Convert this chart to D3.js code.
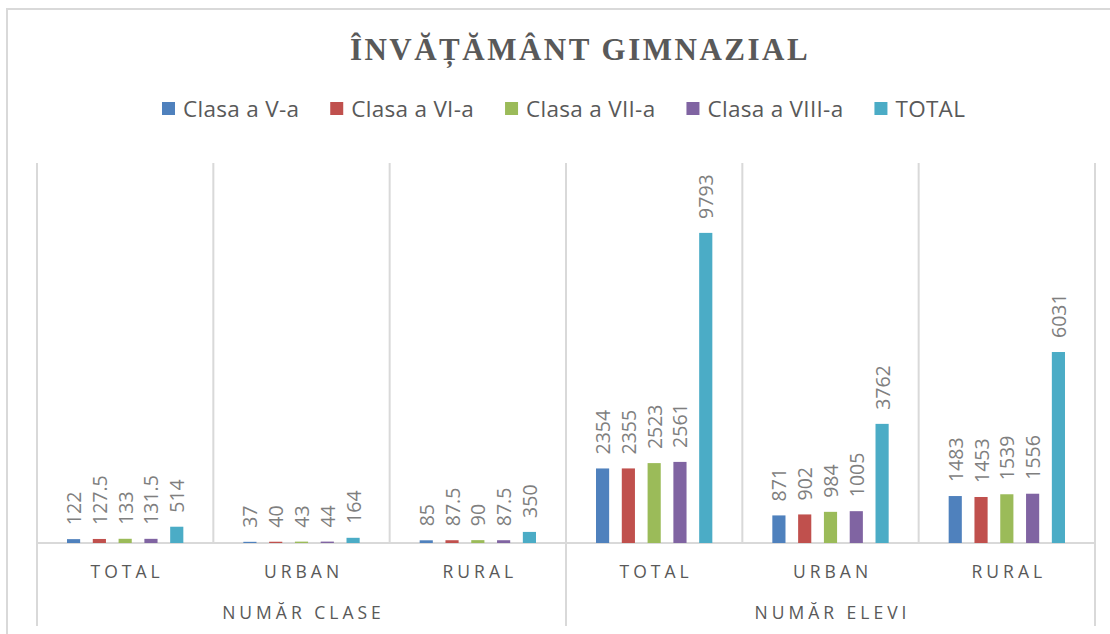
<!DOCTYPE html>
<html lang="ro">
<head>
<meta charset="utf-8">
<title>Învățământ gimnazial</title>
<style type="text/css">
body {
  margin: 0;
  background: #fff;
}
.title {
  font: bold 31px "Liberation Serif", serif;
  letter-spacing: 2.5px;
  fill: #595959;
}
.legend text {
  font: 22.5px "Open Sans", sans-serif;
  letter-spacing: 0.3px;
  fill: #595959;
}
.grid line {
  stroke: #d9d9d9;
  stroke-width: 2px;
}
.labels text {
  font: 19.5px "Open Sans", sans-serif;
  fill: #7f7f7f;
}
.xaxis text, .group-label {
  font: 17.5px "Open Sans", sans-serif;
  letter-spacing: 4px;
  fill: #595959;
}
</style>
</head>
<body>
<svg width="1110" height="634"></svg>
<script src="https://cdnjs.cloudflare.com/ajax/libs/d3/7.8.5/d3.min.js"></script>
<script>
// categories
var groups = ["NUMĂR CLASE", "NUMĂR ELEVI"];
var subCategories = ["TOTAL", "URBAN", "RURAL"];
var seriesNames = ["Clasa a V-a", "Clasa a VI-a", "Clasa a VII-a", "Clasa a VIII-a", "TOTAL"];
var seriesColors = ["#4f81bd", "#c0504d", "#9bbb59", "#8064a2", "#4bacc6"];

// values per series, in category order: clase total/urban/rural, elevi total/urban/rural
var clasaV    = [122,   37, 85,   2354, 871,  1483];
var clasaVI   = [127.5, 40, 87.5, 2355, 902,  1453];
var clasaVII  = [133,   43, 90,   2523, 984,  1539];
var clasaVIII = [131.5, 44, 87.5, 2561, 1005, 1556];
var totalVal  = [514,  164, 350,  9793, 3762, 6031];

var yMax = 12000;

var seriesValues = [clasaV, clasaVI, clasaVII, clasaVIII, totalVal];

var categories = [];
groups.forEach(function(g, gi) {
  subCategories.forEach(function(s) {
    categories.push({key: gi + "-" + s, group: gi, label: s});
  });
});

var svg = d3.select("svg"),
    width = +svg.attr("width"),
    height = +svg.attr("height"),
    plotLeft = 37, plotRight = 1095,
    plotTop = 163, plotBottom = 543;

svg.append("rect")
    .attr("width", width).attr("height", height)
    .attr("fill", "#fff");

// chart border (cropped on right and bottom)
svg.append("rect")
    .attr("x", 7).attr("y", 9)
    .attr("width", width + 20).attr("height", height + 20)
    .attr("fill", "none")
    .attr("stroke", "#d9d9d9")
    .attr("stroke-width", 2);

var x0 = d3.scaleBand()
    .domain(categories.map(function(d) { return d.key; }))
    .range([plotLeft, plotRight]);

var x1 = d3.scaleBand()
    .domain(seriesNames)
    .range([30, x0.bandwidth() - 30])
    .paddingInner(0.49);

var y = d3.scaleLinear()
    .domain([0, yMax])
    .range([plotBottom, plotTop]);

// title
svg.append("text")
    .attr("class", "title")
    .attr("x", 580)
    .attr("y", 60)
    .attr("text-anchor", "middle")
    .text("ÎNVĂȚĂMÂNT GIMNAZIAL");

// legend
var legend = svg.append("g").attr("class", "legend");
var lx = 162;
seriesNames.forEach(function(name, i) {
  var item = legend.append("g").attr("transform", "translate(" + lx + ",0)");
  item.append("rect")
      .attr("x", 0).attr("y", 102)
      .attr("width", 13).attr("height", 13)
      .attr("fill", seriesColors[i]);
  var t = item.append("text")
      .attr("x", 21).attr("y", 117)
      .text(name);
  lx += 21 + t.node().getComputedTextLength() + 31;
});

// vertical separators
var grid = svg.append("g").attr("class", "grid");
var bounds = categories.map(function(d) { return x0(d.key); }).concat([plotRight]);
bounds.forEach(function(bx, i) {
  var outer = (i % subCategories.length === 0);
  grid.append("line")
      .attr("x1", bx).attr("x2", bx)
      .attr("y1", y(yMax))
      .attr("y2", outer ? 626 : y(0));
});
grid.append("line")
    .attr("x1", plotLeft).attr("x2", plotRight)
    .attr("y1", y(0)).attr("y2", y(0));

// bars
var catG = svg.append("g").selectAll("g")
    .data(categories)
    .enter().append("g")
    .attr("transform", function(d) { return "translate(" + x0(d.key) + ",0)"; });

catG.selectAll("rect")
    .data(function(d, ci) {
      return seriesNames.map(function(s, si) {
        return {series: s, value: seriesValues[si][ci], color: seriesColors[si]};
      });
    })
    .enter().append("rect")
    .attr("x", function(d) { return x1(d.series); })
    .attr("width", x1.bandwidth())
    .attr("y", function(d) { return y(d.value); })
    .attr("height", function(d) { return y(0) - y(d.value); })
    .attr("fill", function(d) { return d.color; });

// rotated value labels
catG.append("g").attr("class", "labels").selectAll("text")
    .data(function(d, ci) {
      return seriesNames.map(function(s, si) {
        return {series: s, value: seriesValues[si][ci]};
      });
    })
    .enter().append("text")
    .attr("transform", function(d) {
      var cx = x1(d.series) + x1.bandwidth() / 2;
      return "translate(" + cx + "," + (y(d.value) - 14) + ") rotate(-90)";
    })
    .attr("dominant-baseline", "central")
    .text(function(d) { return d.value; });

// category axis
var xAxis = d3.axisBottom(x0)
    .tickSize(0)
    .tickPadding(0)
    .tickFormat(function(k) { return k.split("-")[1]; });

var axisG = svg.append("g")
    .attr("class", "xaxis")
    .attr("transform", "translate(2," + (plotBottom + 35) + ")")
    .call(xAxis);
axisG.select(".domain").remove();
axisG.selectAll("text").attr("dy", 0).attr("y", 0);

// group labels
groups.forEach(function(g, gi) {
  var first = x0(gi + "-" + subCategories[0]);
  var last = x0(gi + "-" + subCategories[subCategories.length - 1]) + x0.bandwidth();
  svg.append("text")
      .attr("class", "group-label")
      .attr("x", (first + last) / 2 + 2)
      .attr("y", 619)
      .attr("text-anchor", "middle")
      .text(g);
});
</script>
</body>
</html>
